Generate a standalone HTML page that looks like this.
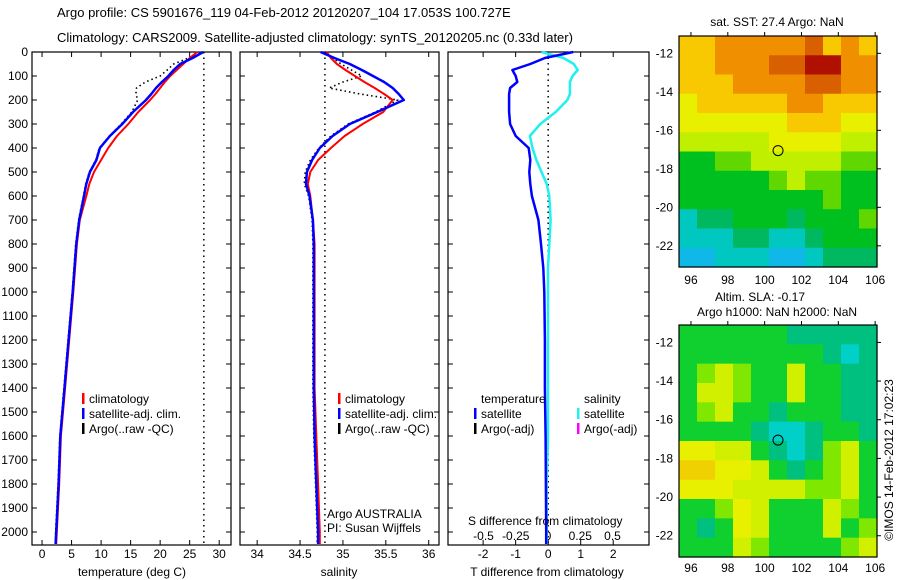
<!DOCTYPE html>
<html><head><meta charset="utf-8"><style>
html,body{margin:0;padding:0;background:#fff;width:900px;height:580px;overflow:hidden}
svg text{font-family:"Liberation Sans",sans-serif;font-size:12px;fill:#000}
</style></head><body>
<svg id="chart" width="900" height="580" viewBox="0 0 900 580" xmlns="http://www.w3.org/2000/svg">
<text x="57" y="17" style="font-size:13px">Argo profile: CS 5901676_119 04-Feb-2012 20120207_104 17.053S 100.727E</text>
<text x="57" y="42" style="font-size:13px">Climatology: CARS2009. Satellite-adjusted climatology: synTS_20120205.nc (0.33d later)</text>
</svg>
<script>
// ---- profile data ----
const depths = [0,25,50,75,100,125,150,175,200,250,300,350,400,450,500,550,600,700,800,900,1000,1200,1400,1600,1800,2000,2050];
const tempClim = [26.3,25,23.9,22.8,21.7,20.8,20,19.2,18.3,16.3,14.6,12.7,11.2,10,8.8,8,7.5,6.4,5.9,5.6,5.3,4.6,3.9,3.2,2.9,2.5,2.4];
const tempSat = [27.3,25.5,23.4,22.3,21.4,20.3,19.3,18.5,17.6,15.4,13.6,11.5,9.8,9.2,8.1,7.5,7.1,6.3,5.8,5.5,5.2,4.5,3.8,3.1,2.8,2.4,2.3];
const tempArgo = [27.4,24.8,22.3,21.2,20,17.5,16,15.9,16.2,15.2,13.4,11.4,9.7,9.1,8,7.4,7,6.2,5.7,5.4,5.1,4.4,3.7,3.0,2.7,2.3,2.3];
const salClim = [34.81,34.86,34.93,35.03,35.14,35.25,35.37,35.48,35.58,35.47,35.23,35.02,34.86,34.71,34.62,34.59,34.62,34.65,34.67,34.67,34.67,34.67,34.67,34.69,34.71,34.73,34.73];
const salSat = [34.74,34.9,35.08,35.22,35.35,35.48,35.58,35.65,35.71,35.4,35.08,34.88,34.73,34.64,34.58,34.57,34.61,34.65,34.66,34.66,34.66,34.66,34.66,34.67,34.69,34.71,34.71];
const salArgo = [34.79,34.88,34.98,35.1,35.22,35.0,34.84,35.2,35.64,35.38,35.06,34.86,34.72,34.62,34.56,34.55,34.6,34.64,34.65,34.65,34.65,34.65,34.65,34.66,34.68,34.7,34.7];
const tDiff = [0.77,-0.1,-0.55,-1.1,-1.0,-0.95,-1.17,-1.2,-1.2,-1.2,-1.17,-1.0,-0.6,-0.55,-0.58,-0.55,-0.5,-0.3,-0.22,-0.15,-0.12,-0.1,-0.1,-0.08,-0.07,-0.06,-0.06];
const sDiff = [-0.05,0.12,0.2,0.23,0.19,0.17,0.17,0.17,0.15,0.06,-0.06,-0.14,-0.12,-0.09,-0.05,-0.01,0.01,0.02,0.01,0.0,0.0,0.0,0.0,0,-0.01,-0.01,-0.01];
const depthTicks = [0,100,200,300,400,500,600,700,800,900,1000,1100,1200,1300,1400,1500,1600,1700,1800,1900,2000];
const tempTicks = [0,5,10,15,20,25,30];
const salTicks = [34,34.5,35,35.5,36];
const tdTicks = [-2,-1,0,1,2];
const sdTicks = [-0.5,-0.25,0,0.25,0.5];
const satSST = 27.4;
const climSalRef = 34.79;
// ---- map data (1-degree cells, rows north->south) ----
const mapLonTicks = [96,98,100,102,104,106];
const mapLatTicks = [-12,-14,-16,-18,-20,-22];
const sstGrid = [
[7,7,8,8,8,8,8,9,7,8,7],
[7,7,8,8,8,9,9,10,10,8,8],
[7,7,7,8,8,8,8,9,9,8,8],
[6,7,7,7,7,7,8,8,7,7,7],
[6,6,6,6,6,6,7,7,7,6,6],
[5,5,5,5,5,6,6,6,6,5,5],
[3,3,4,4,5,5,5,5,5,4,4],
[3,3,3,3,3,4,5,4,4,3,3],
[3,3,3,3,3,3,3,3,4,3,3],
[1,2,2,3,3,3,2,3,3,3,4],
[1,1,1,2,2,1,1,2,3,3,3],
[0,0,1,1,1,0,0,1,2,2,2]];
const slaGrid = [
[3,3,3,3,3,3,2,2,2,2,2],
[3,3,3,3,3,3,3,3,2,1,2],
[3,4,5,4,3,3,5,3,3,2,2],
[3,5,5,4,3,3,5,3,3,2,2],
[3,4,5,3,3,2,3,3,3,2,2],
[3,3,3,3,2,1,1,2,3,3,2],
[6,6,5,5,3,2,1,2,4,5,3],
[7,7,6,6,5,3,2,3,4,5,3],
[6,6,6,5,5,5,5,4,4,5,3],
[3,3,4,6,5,3,3,3,5,4,3],
[3,2,3,6,5,3,3,3,5,3,4],
[3,3,3,5,4,3,3,3,3,4,5]];
const argoLon = 100.727, argoLat = -17.053;

const sstColors = ['#10b8e8','#00c8c0','#00b860','#00c020','#60d800','#c0f000','#e8f000','#f8c800','#f09000','#d86000','#b01000'];
const slaColors = ['#00c8e0','#00d0c8','#00c080','#10d030','#80e800','#d0f000','#e8f000','#f0d000'];

const NS='http://www.w3.org/2000/svg';
const svg=document.getElementById('chart');
function mk(tag,attrs,parent){const e=document.createElementNS(NS,tag);for(const k in attrs)e.setAttribute(k,attrs[k]);(parent||svg).appendChild(e);return e;}
function txt(s,x,y,anchor,parent){const t=mk('text',{x:x,y:y,'text-anchor':anchor||'start'},parent);t.textContent=s;return t;}

const Y0=52, Y1=545;
const yD=d=>Y0+d*0.24;

function panel(name,x0,x1,vmin,vmax){
  const sx=v=>x0+(v-vmin)/(vmax-vmin)*(x1-x0);
  const g=mk('g',{});
  
  
  const r=mk('rect',{x:x0,y:Y0,width:x1-x0,height:Y1-Y0,fill:'none',stroke:'#000','stroke-width':1.2},g);
  
  
  depthTicks.forEach(d=>{
    const t1=mk('line',{x1:x0,x2:x0+5,y1:yD(d),y2:yD(d),stroke:'#000'},g);
    
    
    const t2=mk('line',{x1:x1-5,x2:x1,y1:yD(d),y2:yD(d),stroke:'#000'},g);
    
    
  });
  return {g,sx};
}
function xTicks(p,ticks,labels,ly){
  ticks.forEach((v,i)=>{
    const a=mk('line',{x1:p.sx(v),x2:p.sx(v),y1:Y0,y2:Y0+5,stroke:'#000'},p.g);
    
    
    const b=mk('line',{x1:p.sx(v),x2:p.sx(v),y1:Y1-5,y2:Y1,stroke:'#000'},p.g);
    
    
    const t=txt(labels[i],p.sx(v),ly,'middle',p.g);
    
    
  });
}
function line(p,vals,color,w,name,dash){
  const pts=vals.map((v,i)=>p.sx(v).toFixed(1)+','+yD(depths[i]).toFixed(1)).join(' ');
  const a={points:pts,fill:'none',stroke:color,'stroke-width':w,'stroke-linejoin':'round'};
  if(dash)a['stroke-dasharray']=dash;
  const l=mk('polyline',a,p.g);
  
  
}
function vdot(p,v,name){
  const l=mk('line',{x1:p.sx(v),x2:p.sx(v),y1:Y0,y2:Y1,stroke:'#000','stroke-width':1.5,'stroke-dasharray':'1.5,4'},p.g);
  
  
}
function legend(g,x,y,color,label){
  const b=mk('rect',{x:x,y:y-10,width:2.5,height:11,fill:color},g);
  
  
  const t=txt(label,x+7,y,'start',g);
  
  
}

const p1=panel('temperature-panel',32,231,-1.7,32);
depthTicks.forEach(d=>{const t=txt(String(d),28,yD(d)+4,'end',p1.g);
  
  });
xTicks(p1,tempTicks,tempTicks.map(String),558);
vdot(p1,satSST,'sat-sst-reference-line');
line(p1,tempArgo,'#000',1.6,'argo-temperature-line','1.5,3');
line(p1,tempClim,'#ff0000',2,'climatology-temperature-line');
line(p1,tempSat,'#0000ff',2.5,'satellite-temperature-line');
legend(p1.g,82,403,'#ff0000','climatology');
legend(p1.g,82,418,'#0000ff','satellite-adj. clim.');
legend(p1.g,82,433,'#000','Argo(..raw -QC)');
const xt1=txt('temperature (deg C)',132,576,'middle',p1.g);



const p2=panel('salinity-panel',240,439,33.8,36.12);
xTicks(p2,salTicks,['34','34.5','35','35.5','36'],558);
vdot(p2,climSalRef,'salinity-reference-line');
line(p2,salArgo,'#000',1.6,'argo-salinity-line','1.5,3');
line(p2,salClim,'#ff0000',2,'climatology-salinity-line');
line(p2,salSat,'#0000ff',2.5,'satellite-salinity-line');
legend(p2.g,338,403,'#ff0000','climatology');
legend(p2.g,338,418,'#0000ff','satellite-adj. clim.');
legend(p2.g,338,433,'#000','Argo(..raw -QC)');
const a1=txt('Argo AUSTRALIA',327,518,'start',p2.g);


const a2=txt('PI: Susan Wijffels',327,532,'start',p2.g);


const xt2=txt('salinity',339,576,'middle',p2.g);



const p3=panel('difference-panel',448,649,-3.08,3.1);
xTicks(p3,tdTicks,tdTicks.map(String),558);
const sdx=v=>548+v*129;
sdTicks.forEach((v,i)=>{const t=txt(String(v),sdx(v),540,'middle',p3.g);
  
  });
vdot(p3,0,'zero-difference-line');
const p3s={g:p3.g,sx:sdx};
line(p3s,sDiff,'#20f0f0',2.5,'salinity-difference-line');
line(p3,tDiff,'#0000ff',2.5,'temperature-difference-line');
const lt=txt('temperature',481,403,'start',p3.g);


const ls=txt('salinity',584,403,'start',p3.g);


legend(p3.g,474,418,'#0000ff','satellite');
legend(p3.g,474,433,'#000','Argo(-adj)');
legend(p3.g,577,418,'#20f0f0','satellite');
legend(p3.g,577,433,'#ff00ff','Argo(-adj)');
const st=txt('S difference from climatology',468,525,'start',p3.g);


const xt3=txt('T difference from climatology',547,576,'middle',p3.g);



function map(name,grid,colors,top,bottom,lonLabelY){
  const x0=679,x1=877,lonMin=95.35,lonMax=106.1,latMax=-11.1,latMin=-23.1;
  const mx=lon=>x0+(lon-lonMin)/(lonMax-lonMin)*(x1-x0);
  const my=lat=>top+(latMax-lat)/(latMax-latMin)*(bottom-top);
  const g=mk('g',{});
  
  
  const rows=grid.length,cols=grid[0].length;
  const cw=(x1-x0)/cols,ch=(bottom-top)/rows;
  grid.forEach((row,r)=>row.forEach((v,c)=>{
    const cell=mk('rect',{x:(x0+c*cw).toFixed(2),y:(top+r*ch).toFixed(2),width:(cw+0.6).toFixed(2),height:(ch+0.6).toFixed(2),fill:colors[v]},g);
    
    
  }));
  const fr=mk('rect',{x:x0,y:top,width:x1-x0,height:bottom-top,fill:'none',stroke:'#000','stroke-width':1.2},g);
  
  
  mapLonTicks.forEach(v=>{
    const t=mk('line',{x1:mx(v),x2:mx(v),y1:top-4,y2:top,stroke:'#000'},g);
    
    
    const l=txt(String(v),mx(v),lonLabelY,'middle',g);
    
    
  });
  mapLatTicks.forEach(v=>{
    const t=mk('line',{x1:x1,x2:x1+4,y1:my(v),y2:my(v),stroke:'#000'},g);
    
    
    const l=txt(String(v),673,my(v)+4,'end',g);
    
    
  });
  const c=mk('circle',{cx:mx(argoLon),cy:my(argoLat),r:5,fill:'none',stroke:'#000','stroke-width':1},g);
  
  
  return g;
}
const m1=map('sst-map',sstGrid,sstColors,36,267,284);
const mt1=txt('sat. SST: 27.4 Argo: NaN',777,26,'middle',m1);


const m2=map('sla-map',slaGrid,slaColors,325,557,572);
const mt2=txt('Altim. SLA: -0.17',760,301,'middle',m2);


const mt3=txt('Argo h1000: NaN h2000: NaN',777,316,'middle',m2);


const cp=txt('©IMOS 14-Feb-2012 17:02:23',0,0,'middle');
cp.setAttribute('transform','translate(893,460) rotate(-90)');


</script>
</body></html>
